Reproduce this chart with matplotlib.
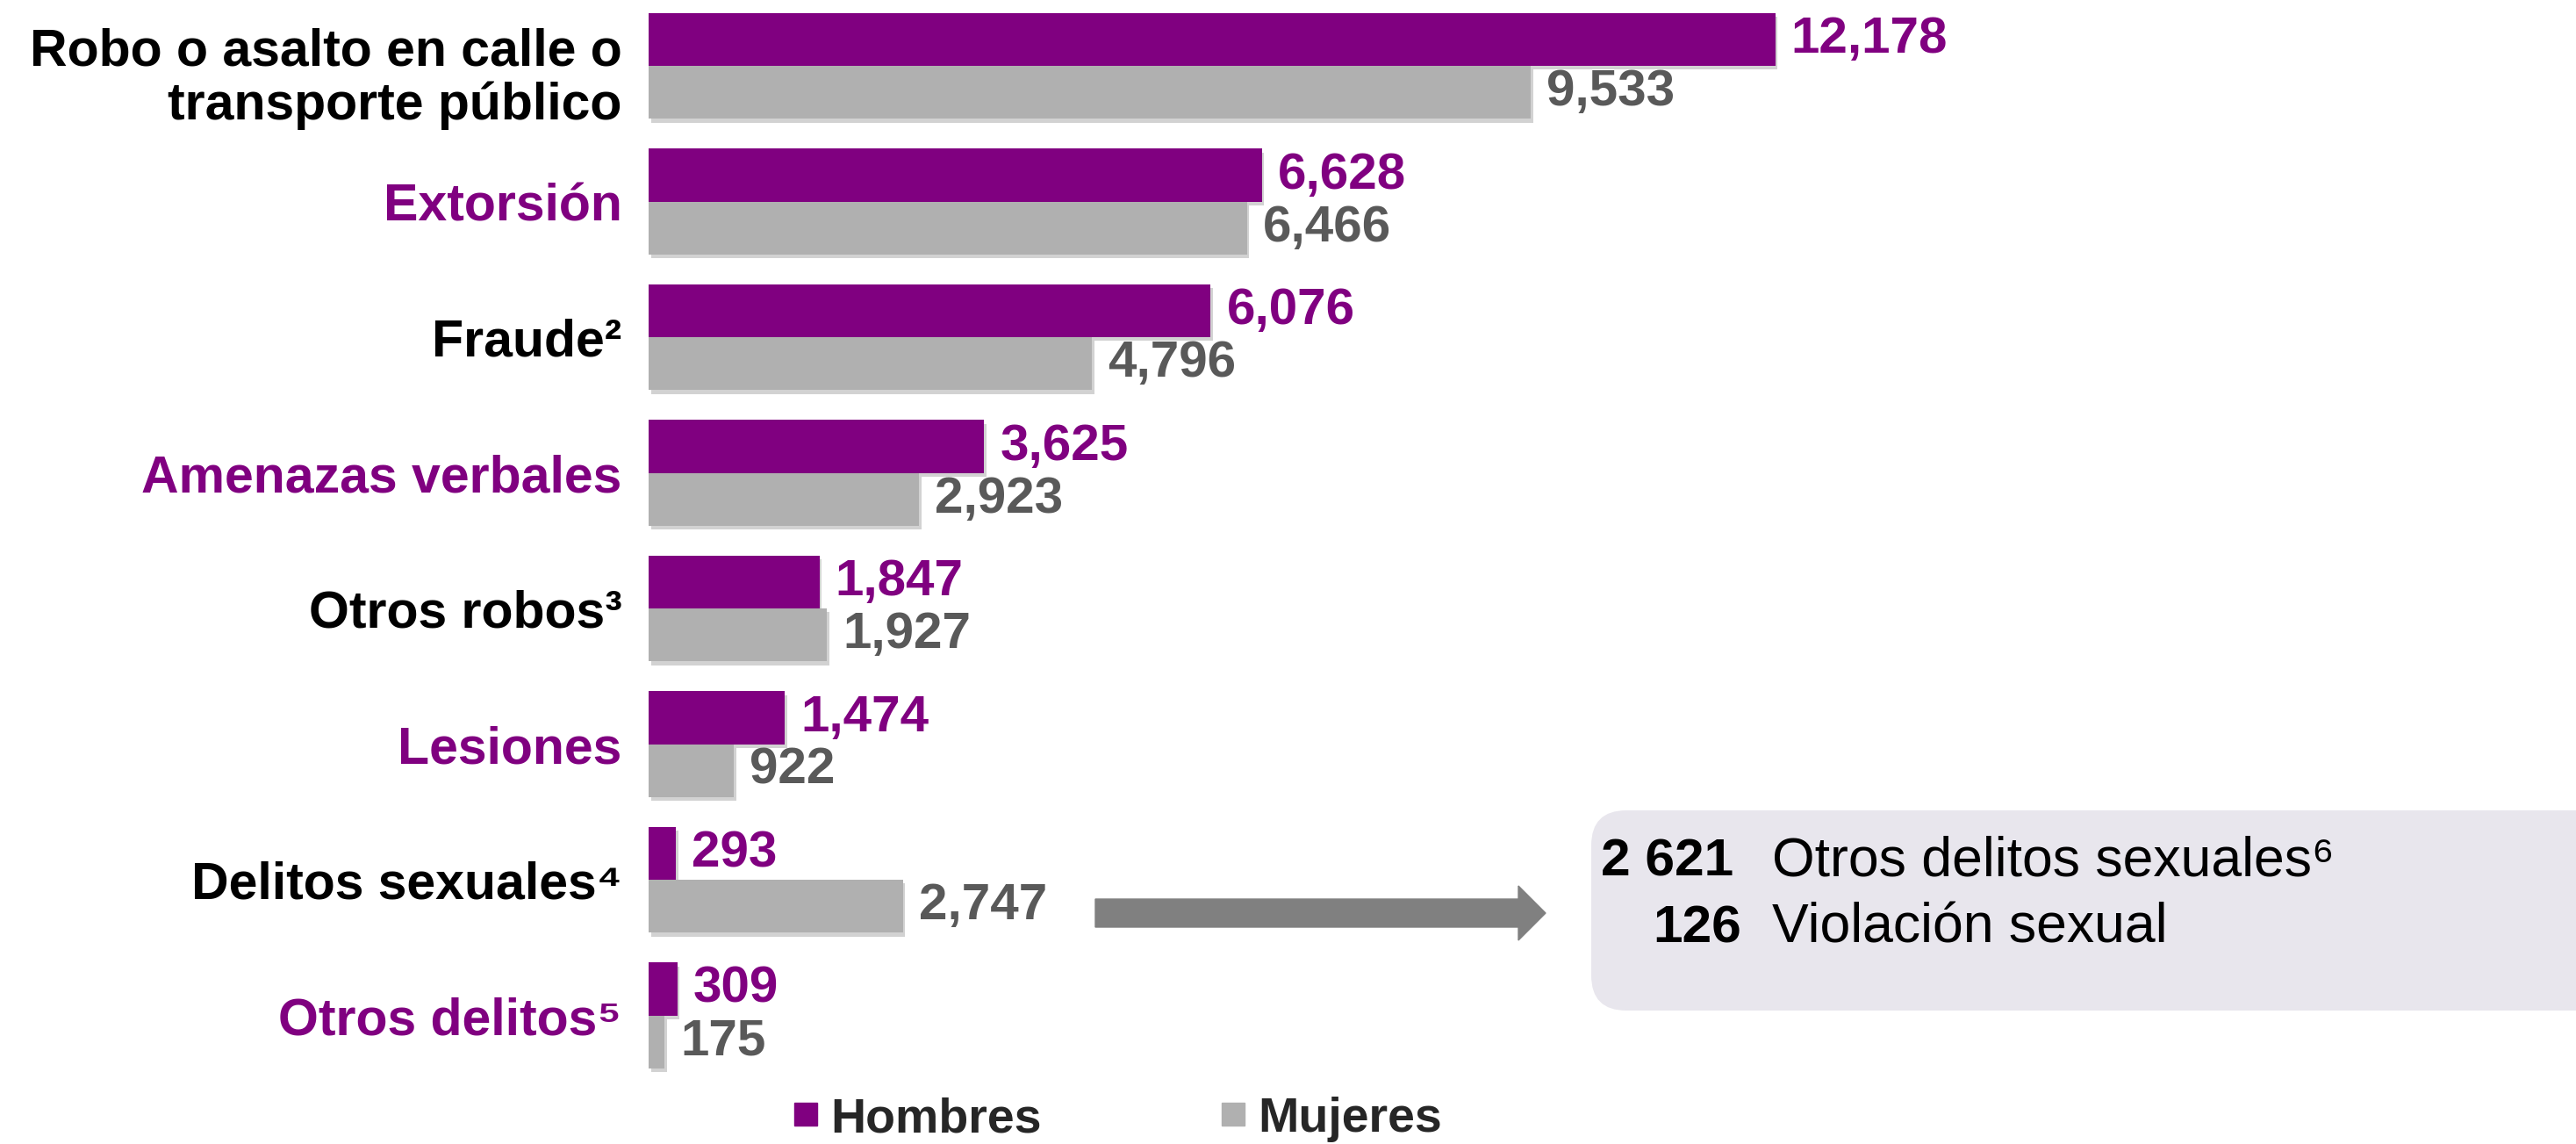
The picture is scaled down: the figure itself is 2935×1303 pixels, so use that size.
import matplotlib
matplotlib.use("Agg")
import matplotlib.pyplot as plt
import matplotlib.patches as mpatches
import matplotlib.patheffects as pe
import matplotlib.transforms as mtransforms
import numpy as np

plt.rcParams['font.family'] = ['Liberation Sans', 'DejaVu Sans']

# data
categorias = ["Robo o asalto en calle o\ntransporte público", "Extorsión", "Fraude²",
              "Amenazas verbales", "Otros robos³", "Lesiones", "Delitos sexuales⁴",
              "Otros delitos⁵"]
hombres = [12178, 6628, 6076, 3625, 1847, 1474, 293, 309]
mujeres = [9533, 6466, 4796, 2923, 1927, 922, 2747, 175]
detalle_valores = ["2 621", "126"]
detalle_textos = ["Otros delitos sexuales⁶", "Violación sexual"]

PURPLE = "#800080"
GRAY = "#b0b0b0"
GRAY_TXT = "#595959"
label_colors = ["black", PURPLE] * 4

W, H = 2935, 1303
fig = plt.figure(figsize=(W / 100, H / 100), dpi=100)
ax = fig.add_axes([739 / W, 1 - 1272.6 / H, (W - 739) / W, (1272.6 - 5.7) / H])

y = np.arange(len(categorias))
h = 0.39
shadow = [pe.SimplePatchShadow(offset=(2, -3), shadow_rgbFace="#808080", alpha=0.35), pe.Normal()]

b1 = ax.barh(y - h / 2, hombres, height=h, color=PURPLE)
b2 = ax.barh(y + h / 2, mujeres, height=h, color=GRAY)
for r in list(b1) + list(b2):
    r.set_path_effects(shadow)

for yi, v in zip(y, hombres):
    ax.annotate(f"{v:,}", xy=(v, yi - h / 2), xytext=(13, 0), textcoords="offset points",
                va="center", ha="left", fontsize=42, fontweight="bold", color=PURPLE)
for yi, v in zip(y, mujeres):
    ax.annotate(f"{v:,}", xy=(v, yi + h / 2), xytext=(13, 0), textcoords="offset points",
                va="center", ha="left", fontsize=42, fontweight="bold", color=GRAY_TXT)

ax.set_xlim(0, (W - 739) / 0.1054)
ax.set_ylim(7.75, -0.45)
ax.set_yticks(y)
ax.set_yticklabels(categorias, fontsize=42.5, fontweight="bold", linespacing=1.13)
for lbl, c in zip(ax.get_yticklabels(), label_colors):
    lbl.set_color(c)
ax.tick_params(axis="y", length=0, pad=22)
# two-line label sits a bit lower in the original
first = ax.get_yticklabels()[0]
first.set_transform(first.get_transform() +
                    mtransforms.ScaledTranslation(0, -0.06, fig.dpi_scale_trans))
ax.set_xticks([])
for s in ax.spines.values():
    s.set_visible(False)

# arrow + callout box (inches from bottom-left)
arrow = mpatches.FancyArrow(12.48, 2.63, 5.13, 0, width=0.32, head_width=0.62,
                            head_length=0.31, length_includes_head=True,
                            color="#808080", transform=fig.dpi_scale_trans)
fig.patches.append(arrow)
box = mpatches.FancyBboxPatch((18.13, 1.52), 12.0, 2.28,
                              boxstyle="round,pad=0,rounding_size=0.4",
                              facecolor="#e8e6ed", edgecolor="none",
                              transform=fig.dpi_scale_trans)
fig.patches.append(box)
for val, txt, xr, yb in zip(detalle_valores, detalle_textos, [19.75, 19.84], [3.06, 2.29]):
    fig.text(xr / (W / 100), yb / (H / 100), val, ha="right", va="baseline",
             fontsize=43.5, fontweight="bold", color="black")
    fig.text(20.19 / (W / 100), yb / (H / 100), txt, ha="left", va="baseline",
             fontsize=45, color="black")

handles = [mpatches.Patch(color=PURPLE), mpatches.Patch(color=GRAY)]
leg = fig.legend(handles, ["Hombres", "Mujeres"], loc="center left",
                 bbox_to_anchor=(905 / W, 1 - 1275 / H), ncol=2, frameon=False,
                 prop={"size": 40, "weight": "bold"}, handlelength=0.47,
                 handleheight=0.34, handletextpad=0.27, columnspacing=3.7,
                 borderpad=0, borderaxespad=0)
for t in leg.get_texts():
    t.set_color("#262626")

fig.savefig("out.png", dpi=100)
